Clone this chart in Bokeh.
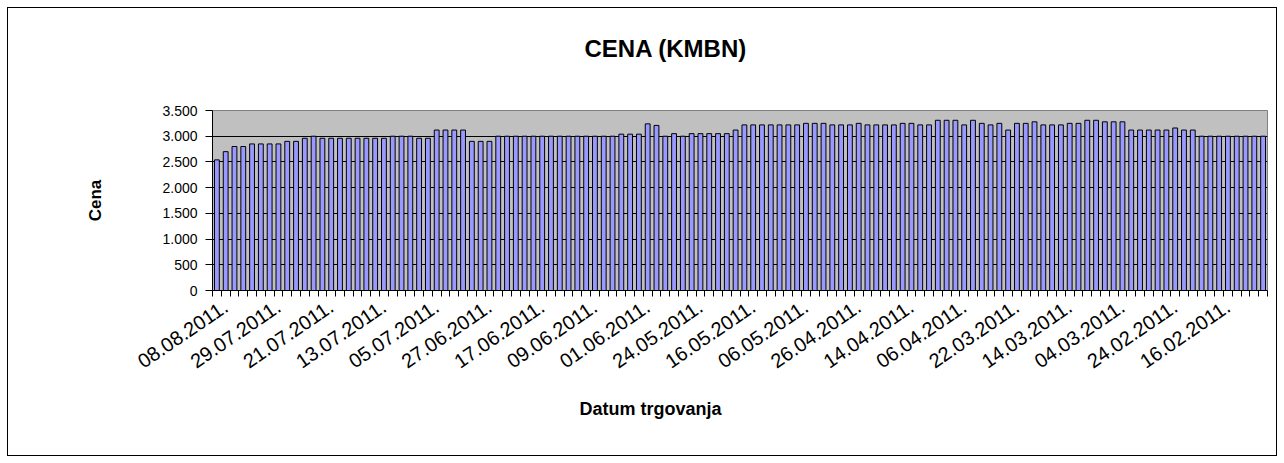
from bokeh.plotting import figure
from bokeh.models import ColumnDataSource, FixedTicker, Range1d, Title
from bokeh.embed import file_html
from bokeh.resources import INLINE

# ---------------- data ----------------
title_text = "CENA (KMBN)"
x_title = "Datum trgovanja"
y_title = "Cena"

# labels shown on every 6th trading day (newest first)
date_labels = [
    "08.08.2011.", "29.07.2011.", "21.07.2011.", "13.07.2011.", "05.07.2011.",
    "27.06.2011.", "17.06.2011.", "09.06.2011.", "01.06.2011.", "24.05.2011.",
    "16.05.2011.", "06.05.2011.", "26.04.2011.", "14.04.2011.", "06.04.2011.",
    "22.03.2011.", "14.03.2011.", "04.03.2011.", "24.02.2011.", "16.02.2011.",
]
label_every = 6

prices = [
    2540, 2700, 2800, 2800, 2850, 2850, 2850, 2850, 2900, 2900,
    2960, 3000, 2960, 2960, 2960, 2960, 2960, 2960, 2960, 2960,
    3000, 3000, 3000, 2960, 2960, 3120, 3120, 3120, 3120, 2900,
    2900, 2900, 3000, 3000, 3000, 3000, 3000, 3000, 3000, 3000,
    3000, 3000, 3000, 3000, 3000, 3000, 3040, 3040, 3040, 3240,
    3210, 3000, 3050, 3000, 3050, 3050, 3050, 3050, 3050, 3120,
    3220, 3220, 3220, 3220, 3220, 3220, 3220, 3250, 3250, 3250,
    3220, 3220, 3220, 3250, 3220, 3220, 3220, 3220, 3250, 3250,
    3220, 3220, 3310, 3310, 3310, 3220, 3310, 3250, 3220, 3250,
    3120, 3250, 3250, 3280, 3220, 3220, 3220, 3250, 3250, 3310,
    3310, 3280, 3280, 3280, 3120, 3120, 3120, 3120, 3120, 3160,
    3120, 3120, 3000, 3000, 3000, 3000, 3000, 3000, 3000, 3000,
]

y_ticks = [0, 500, 1000, 1500, 2000, 2500, 3000, 3500]
y_tick_labels = ["0", "500", "1.000", "1.500", "2.000", "2.500", "3.000", "3.500"]

# ---------------- figure ----------------
n = len(prices)
src = ColumnDataSource(dict(x=list(range(n)), price=prices))

FONT = "Liberation Sans"

p = figure(
    width=1268, height=447,
    x_range=Range1d(-0.5, n - 0.5), y_range=Range1d(0, 3500),
    output_backend="svg", toolbar_location=None,
    min_border_left=204, min_border_right=9,
    min_border_top=102, min_border_bottom=165,
)
p.title_location = None
p.styles = {"margin": "8px", "outline": "1px solid black", "outline-offset": "0px"}
p.background_fill_color = "#C0C0C0"
p.border_fill_color = "white"
p.outline_line_color = "#808080"
p.outline_line_width = 1

p.vbar(x="x", top="price", width=0.55, source=src,
       fill_color="#9999FF", line_color="black", line_width=1)

# title (a blank spacer keeps it clear of the plot area, as in the original)
p.add_layout(Title(text=" ", text_font=FONT, text_font_size="30px",
                   standoff=9), "above")
p.add_layout(Title(text=title_text, align="left", offset=372,
                   vertical_align="bottom", standoff=10,
                   text_font=FONT, text_font_size="24px",
                   text_font_style="bold", text_color="black"), "above")

# x axis
xa = p.xaxis[0]
shift = 1  # Excel-like placement of rotated labels relative to category
label_pos = [i * label_every + shift for i in range(len(date_labels))]
xa.ticker = FixedTicker(ticks=label_pos,
                        minor_ticks=[i - 0.5 for i in range(n + 1)])
xa.major_label_overrides = {k: lab for k, lab in zip(label_pos, date_labels)}
xa.major_label_orientation = 0.6
xa.major_tick_out = 0
xa.major_tick_in = 0
xa.minor_tick_out = 6
xa.minor_tick_in = 0
xa.minor_tick_line_color = "black"
xa.axis_line_color = "black"
xa.major_label_text_font = FONT
xa.major_label_text_font_size = "20px"
xa.major_label_text_color = "black"
xa.major_label_standoff = 8

p.add_layout(Title(text=x_title, align="left", offset=367, standoff=39,
                   text_font=FONT, text_font_size="18px",
                   text_font_style="bold", text_color="black"), "below")

# y axis
ya = p.yaxis[0]
ya.ticker = FixedTicker(ticks=y_ticks)
ya.major_label_overrides = {t: lab for t, lab in zip(y_ticks, y_tick_labels)}
ya.major_tick_out = 7
ya.major_tick_in = 0
ya.minor_tick_out = 0
ya.minor_tick_in = 0
ya.axis_line_color = "black"
ya.major_tick_line_color = "black"
ya.major_label_text_font = FONT
ya.major_label_text_font_size = "14px"
ya.major_label_text_color = "black"
ya.major_label_standoff = 8
ya.axis_label = y_title
ya.axis_label_text_font = FONT
ya.axis_label_text_font_size = "17px"
ya.axis_label_text_font_style = "bold"
ya.axis_label_text_color = "black"
ya.axis_label_standoff = 54

p.xgrid.grid_line_color = None
p.ygrid.ticker = FixedTicker(ticks=y_ticks[1:-1])
p.ygrid.grid_line_color = "black"
p.ygrid.grid_line_width = 1

open("out.html", "w").write(file_html(p, INLINE))
